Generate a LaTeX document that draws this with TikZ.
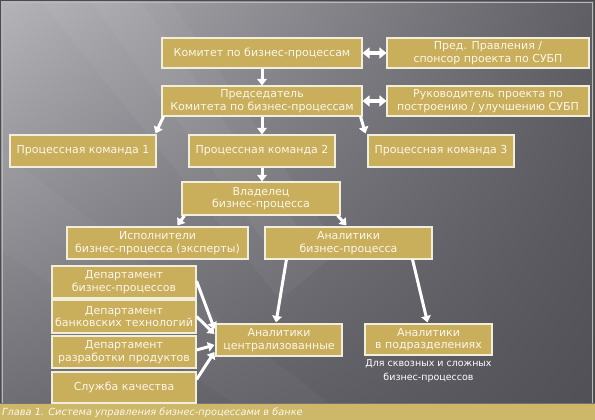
\documentclass[tikz,border=0pt]{standalone}
\usepackage{fontspec}
\setmainfont{DejaVu Sans}
\usetikzlibrary{arrows.meta,shadings}
\definecolor{gold}{HTML}{C9AE5C}
\definecolor{capgold}{HTML}{CDB86A}
\definecolor{txt}{HTML}{FBF7EA}
\definecolor{edge}{HTML}{F2EEDC}
\definecolor{bgA}{HTML}{B4B4B9}
\definecolor{bgB}{HTML}{5E5E64}
\definecolor{bgC}{HTML}{6E6E74}
\definecolor{bgD}{HTML}{505056}
\begin{document}
\begin{tikzpicture}[x=1pt,y=-1pt,
  box/.style={draw=edge, line width=1.1pt, fill=gold, text=txt, align=center,
    font=\fontsize{11}{12.5}\selectfont, inner sep=0pt},
  arr/.style={draw=white, line width=3pt, -{Triangle[width=9.5pt,length=6.5pt]}},
  dbl/.style={draw=white, line width=3.5pt,
    {Triangle[width=11pt,length=7pt]}-{Triangle[width=11pt,length=7pt]}}]
\useasboundingbox (0,0) rectangle (595,420);
% background
\shade[upper left=bgA, upper right=bgB, lower left=bgC, lower right=bgD] (0,0) rectangle (595,404);
\fill[white, opacity=0.04] (40,0) -- (170,0) -- (340,250) -- (280,300) -- cycle;
\fill[white, opacity=0.04] (90,0) -- (140,0) -- (300,230) -- (270,250) -- cycle;
\fill[white, opacity=0.03] (0,150) -- (0,250) -- (260,420) -- (330,404) -- cycle;
\draw[black!70, line width=0.8pt] (0.4,0.4) rectangle (594.6,403);
\draw[gray!55, line width=0.6pt] (2.5,2.5) -- (592.5,2.5) -- (592.5,403);
\draw[gray!55, line width=0.6pt] (2.5,2.5) -- (2.5,403);
% caption bar
\fill[capgold] (0,404) rectangle (595,420);
\draw[black!55, line width=0.8pt] (0,403.6) -- (595,403.6);
\node[anchor=west, inner sep=0pt, text=txt, font=\fontsize{9.8}{10}\selectfont\itshape] (cap) at (2,412.5)
  {Глава 1. Система управления бизнес-процессами в банке};
% boxes
\node[box, minimum width=200pt, minimum height=30pt] (kom) at (262,53) {Комитет по бизнес-процессам};
\node[box, minimum width=202pt, minimum height=30pt] (pred) at (488,53) {Пред. Правления /\\спонсор проекта по СУБП};
\node[box, minimum width=200pt, minimum height=30pt] (chair) at (262,101) {Председатель\\Комитета по бизнес-процессам};
\node[box, minimum width=202pt, minimum height=30pt] (ruk) at (488,101) {Руководитель проекта по\\построению / улучшению СУБП};
\node[box, minimum width=146pt, minimum height=32pt] (pk1) at (83,151) {Процессная команда 1};
\node[box, minimum width=146pt, minimum height=32pt] (pk2) at (262,151) {Процессная команда 2};
\node[box, minimum width=146pt, minimum height=32pt] (pk3) at (441,151) {Процессная команда 3};
\node[box, minimum width=158pt, minimum height=33pt] (own) at (261,198.5) {Владелец\\бизнес-процесса};
\node[box, minimum width=181pt, minimum height=32pt] (exe) at (157.5,243) {Исполнители\\бизнес-процесса (эксперты)};
\node[box, minimum width=167pt, minimum height=32pt] (abp) at (348.5,243) {Аналитики\\бизнес-процесса};
\node[box, minimum width=144pt, minimum height=32pt] (d1) at (124,282) {Департамент\\бизнес-процессов};
\node[box, minimum width=144pt, minimum height=33pt] (d2) at (124,316.5) {Департамент\\банковских технологий};
\node[box, minimum width=144pt, minimum height=32pt] (d3) at (124,352) {Департамент\\разработки продуктов};
\node[box, minimum width=144pt, minimum height=31pt] (d4) at (124,387.5) {Служба качества};
\node[box, minimum width=126pt, minimum height=32pt] (ac) at (279,340) {Аналитики\\централизованные};
\node[box, minimum width=127pt, minimum height=31pt] (ap) at (428.5,339.5) {Аналитики\\в подразделениях};
\node[anchor=north, inner sep=0pt, text=white, align=center, font=\fontsize{9.5}{14}\selectfont] (note) at (428.5,359)
  {Для сквозных и сложных\\бизнес-процессов};
% connectors
\draw[arr] (kom) -- (chair);
\draw[dbl] (kom) -- (pred);
\draw[dbl] (chair) -- (ruk);
\draw[arr] ([xshift=2pt]chair.south west) -- ([xshift=-1pt,yshift=1pt]pk1.north east);
\draw[arr] (chair) -- (pk2);
\draw[arr] ([xshift=-2pt]chair.south east) -- ([xshift=-2pt,yshift=1pt]pk3.north west);
\draw[arr] (pk2.south) -- (pk2.south |- own.north);
\draw[arr] ([xshift=3pt]own.south west) -- ([xshift=20pt,yshift=1pt]exe.north);
\draw[arr] ([xshift=-3pt]own.south east) -- ([xshift=-2pt,yshift=1pt]abp.north);
\draw[arr] ([xshift=22pt]abp.south west) -- ([xshift=-3pt,yshift=1pt]ac.north);
\draw[arr] ([xshift=-20pt]abp.south east) -- ([xshift=-1pt,yshift=1pt]ap.north);
\draw[arr] ([yshift=1pt]d1.east) -- ([xshift=-1pt,yshift=11pt]ac.west);
\draw[arr] (d2.east) -- ([xshift=-1pt,yshift=6pt]ac.west);
\draw[arr] ([yshift=2pt]d3.east) -- ([xshift=-1pt,yshift=-5pt]ac.west);
\draw[arr] ([yshift=8pt]d4.east) -- ([xshift=-1pt,yshift=-12pt]ac.west);
\end{tikzpicture}
\end{document}
